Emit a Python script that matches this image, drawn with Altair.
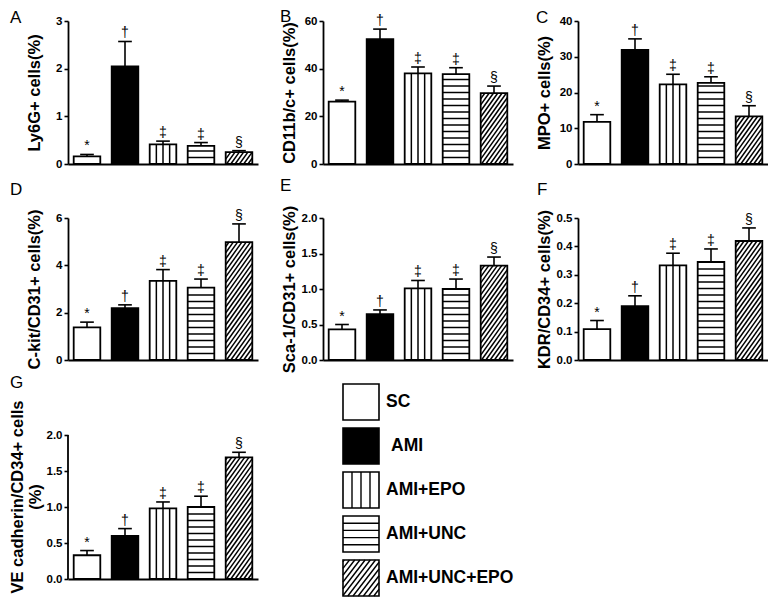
import altair as alt
import pandas as pd

FONT = "Liberation Sans"

# ---------------- data ----------------
groups = ["SC", "AMI", "AMI+EPO", "AMI+UNC", "AMI+UNC+EPO"]
symbols = ["*", "†", "‡", "‡", "§"]
fills = ["white", "black", "white", "white", "white"]
patterns = ["none", "none", "vertical", "horizontal", "diagonal"]

letters = ["A", "B", "C", "D", "E", "F", "G"]
titles = [
    "Ly6G+ cells(%)",
    "CD11b/c+ cells(%)",
    "MPO+ cells(%)",
    "C-kit/CD31+ cells(%)",
    "Sca-1/CD31+ cells(%)",
    "KDR/CD34+ cells(%)",
    ["VE cadherin/CD34+ cells", "(%)"],
]

mean_A = [0.16, 2.05, 0.41, 0.38, 0.25]
sem_A = [0.04, 0.52, 0.07, 0.07, 0.03]
mean_B = [26.2, 52.4, 38.0, 37.7, 29.7]
sem_B = [0.6, 4.2, 2.7, 2.7, 3.0]
mean_C = [11.8, 31.9, 22.3, 22.7, 13.3]
sem_C = [2.0, 3.1, 2.8, 1.7, 3.0]
mean_D = [1.38, 2.19, 3.34, 3.06, 4.98]
sem_D = [0.22, 0.14, 0.48, 0.36, 0.77]
mean_E = [0.43, 0.645, 1.01, 1.00, 1.33]
sem_E = [0.07, 0.06, 0.11, 0.14, 0.12]
mean_F = [0.109, 0.190, 0.333, 0.345, 0.419]
sem_F = [0.030, 0.036, 0.043, 0.046, 0.046]
mean_G = [0.33, 0.60, 0.98, 1.00, 1.69]
sem_G = [0.065, 0.10, 0.09, 0.15, 0.07]

ticks_A = [0, 1, 2, 3]
ticks_B = [0, 20, 40, 60]
ticks_C = [0, 10, 20, 30, 40]
ticks_D = [0, 2, 4, 6]
ticks_E = [0.0, 0.5, 1.0, 1.5, 2.0]
ticks_F = [0.0, 0.1, 0.2, 0.3, 0.4, 0.5]
ticks_G = [0.0, 0.5, 1.0, 1.5, 2.0]

# ---------------- layout / style ----------------
W = 190
ROW_H = [143, 142, 165]
G_SPAN = 144          # pixel span of 0..2.0 in panel G
BAR_OFF, BAR_W = 0.15, 0.7
CAP = 0.18
HSTEP_PX = 6.5
DIAG_SP, DIAG_K = 4.3, 1.4


def diag_segments(w, h, sp, k):
    segs = []
    c = -k * w
    while c < h:
        ua = max(0.0, -c / k)
        ub = min(w, (h - c) / k)
        if ub - ua > 0.2:
            segs.append((ua, k * ua + c, ub, k * ub + c))
        c += sp * k
    return segs


def panel(letter, title, means, sems, ticks, ymax, height, fmt, letter_dx, letter_dy,
          axis_top=None, title_x=-26):
    xpx = W / 5.0
    ypx = height / ymax
    rows = []
    stripes = []
    for i, (g, m, s, sym, f, pat) in enumerate(zip(groups, means, sems, symbols, fills, patterns)):
        x0 = i + BAR_OFF
        x1 = x0 + BAR_W
        rows.append(dict(group=g, x0=x0, x1=x1, xc=i + 0.5, cl=i + 0.5 - CAP, cr=i + 0.5 + CAP,
                         value=m, top=m + s, sym=sym, fill=f))
        if pat == "vertical":
            for k in (1, 2, 3):
                xv = x0 + BAR_W * k / 4
                stripes.append(dict(x=xv, x2=xv, y=0, y2=m))
        elif pat == "horizontal":
            hpx = m * ypx
            yp = HSTEP_PX
            while yp < hpx - 2:
                stripes.append(dict(x=x0, x2=x1, y=yp / ypx, y2=yp / ypx))
                yp += HSTEP_PX
        elif pat == "diagonal":
            for (ua, va, ub, vb) in diag_segments(BAR_W * xpx, m * ypx, DIAG_SP, DIAG_K):
                stripes.append(dict(x=x0 + ua / xpx, x2=x0 + ub / xpx, y=va / ypx, y2=vb / ypx))
    df = pd.DataFrame(rows)
    sdf = pd.DataFrame(stripes)

    xs = alt.Scale(domain=[0, 5], nice=False, zero=False)
    ys = alt.Scale(domain=[0, ymax], nice=False, zero=True)
    xaxis = alt.Axis(labels=False, ticks=False, title=None, grid=False,
                     domainColor="black", domainWidth=1.8)
    yaxis = alt.Axis(values=ticks, format=fmt, title=title, grid=False,
                     domain=(axis_top is None), domainColor="black", domainWidth=1.8,
                     tickColor="black", tickWidth=1.6, tickSize=4,
                     labelFont=FONT, labelFontSize=11.5, labelFontWeight="bold",
                     labelColor="black", labelPadding=2,
                     titleFont=FONT, titleFontSize=16.5, titleFontWeight="bold",
                     titleColor="black", titleX=title_x, titleBaseline="bottom",
                     titleLineHeight=18)

    def X(f):
        return alt.X(f, scale=xs, axis=xaxis)

    def Y(f):
        return alt.Y(f, scale=ys, axis=yaxis)

    err_v = alt.Chart(df).mark_rule(color="black", strokeWidth=1.6).encode(
        x=X("xc:Q"), y=Y("value:Q"), y2="top:Q")
    err_h = alt.Chart(df).mark_rule(color="black", strokeWidth=1.6).encode(
        x=X("cl:Q"), x2="cr:Q", y=Y("top:Q"))
    bars = alt.Chart(df).mark_rect(stroke="black", strokeWidth=1.8).encode(
        x=X("x0:Q"), x2="x1:Q", y=Y("value:Q"), y2=alt.datum(0),
        fill=alt.Fill("fill:N", scale=None))
    st = alt.Chart(sdf).mark_rule(color="black", strokeWidth=1.5).encode(
        x=X("x:Q"), x2="x2:Q", y=Y("y:Q"), y2="y2:Q")
    txt = alt.Chart(df).mark_text(font=FONT, fontSize=14, fill="black",
                                  baseline="alphabetic", dy=-4).encode(
        x=X("xc:Q"), y=Y("top:Q"), text="sym:N")
    layers = [err_v, err_h, bars, st, txt]
    if axis_top is not None:
        axl = alt.Chart(pd.DataFrame({"a": [0]})).mark_rule(
            color="black", strokeWidth=1.8).encode(
            x=X("a:Q"), y=alt.Y(datum=0, scale=ys, axis=yaxis), y2=alt.datum(axis_top))
        layers.append(axl)
    return alt.layer(*layers).properties(
        width=W, height=height,
        view=alt.ViewBackground(strokeOpacity=0, strokeWidth=0),
        title=alt.TitleParams(text=letter, anchor="start", frame="group", dx=letter_dx,
                              dy=letter_dy, offset=0, baseline="alphabetic",
                              fontSize=17, fontWeight="normal", font=FONT, color="black"))


ymax_G = 2.0 * ROW_H[2] / G_SPAN
pA = panel("A", titles[0], mean_A, sem_A, ticks_A, 3, ROW_H[0], "d", -58, 25)
pB = panel("B", titles[1], mean_B, sem_B, ticks_B, 60, ROW_H[0], "d", -43, 25)
pC = panel("C", titles[2], mean_C, sem_C, ticks_C, 40, ROW_H[0], "d", -42, 25)
pD = panel("D", titles[3], mean_D, sem_D, ticks_D, 6, ROW_H[1], "d", -58, 3)
pE = panel("E", titles[4], mean_E, sem_E, ticks_E, 2, ROW_H[1], ".1f", -43, 3)
pF = panel("F", titles[5], mean_F, sem_F, ticks_F, 0.5, ROW_H[1], ".1f", -41, 3)
pG = panel("G", titles[6], mean_G, sem_G, ticks_G, ymax_G, ROW_H[2], ".1f", -58, 5,
           axis_top=2.0, title_x=-43)

# ---------------- legend ----------------
PITCH = 44.0
BOX = 36 / PITCH
LX = 20 / PITCH
TOP_OFF = -30 / PITCH
leg_rows = []
leg_st = []
for i, (g, f, pat) in enumerate(zip(groups, fills, patterns)):
    y0 = float(i)
    y1 = i + BOX
    leg_rows.append(dict(group=g, x0=LX, x1=LX + BOX, y0=y0, y1=y1, ty=i + BOX / 2,
                         tx=LX + BOX + (12 if g == "AMI" else 7) / PITCH, fill=f))
    if pat == "vertical":
        for k in (1, 2, 3):
            xv = LX + BOX * k / 4
            leg_st.append(dict(x=xv, x2=xv, y=y0, y2=y1))
    elif pat == "horizontal":
        for k in (1, 2, 3, 4):
            yv = y0 + BOX * k / 5
            leg_st.append(dict(x=LX, x2=LX + BOX, y=yv, y2=yv))
    elif pat == "diagonal":
        for (ua, va, ub, vb) in diag_segments(36, 36, 5.2, 1.3):
            leg_st.append(dict(x=LX + ua / PITCH, x2=LX + ub / PITCH,
                               y=y1 - va / PITCH, y2=y1 - vb / PITCH))
ldf = pd.DataFrame(leg_rows)
lsdf = pd.DataFrame(leg_st)
lxs = alt.Scale(domain=[0, W / PITCH], nice=False, zero=False)
lys = alt.Scale(domain=[-TOP_OFF, -TOP_OFF + ROW_H[2] / PITCH], nice=False, zero=False,
                reverse=True)
leg_box = alt.Chart(ldf).mark_rect(stroke="black", strokeWidth=1.6).encode(
    x=alt.X("x0:Q", scale=lxs, axis=None), x2="x1:Q",
    y=alt.Y("y0:Q", scale=lys, axis=None), y2="y1:Q",
    fill=alt.Fill("fill:N", scale=None))
leg_lines = alt.Chart(lsdf).mark_rule(color="black", strokeWidth=1.4).encode(
    x=alt.X("x:Q", scale=lxs, axis=None), x2="x2:Q",
    y=alt.Y("y:Q", scale=lys, axis=None), y2="y2:Q")
leg_txt = alt.Chart(ldf).mark_text(font=FONT, fontSize=17.5, fontWeight="bold", fill="black",
                                   align="left", baseline="middle").encode(
    x=alt.X("tx:Q", scale=lxs, axis=None), y=alt.Y("ty:Q", scale=lys, axis=None),
    text="group:N")
legend = alt.layer(leg_box, leg_lines, leg_txt).properties(
    width=W, height=ROW_H[2], view=alt.ViewBackground(strokeOpacity=0, strokeWidth=0))

chart = alt.concat(pA, pB, pC, pD, pE, pF, pG, legend, columns=3,
                   spacing={"row": 54, "column": 65}, bounds="flush", align="each").properties(
    padding={"left": 0, "top": 0, "right": 0, "bottom": 0}
).configure_view(strokeOpacity=0, strokeWidth=0).configure(background="white")

chart.save("out.html", embed_options={"renderer": "svg", "actions": False})
